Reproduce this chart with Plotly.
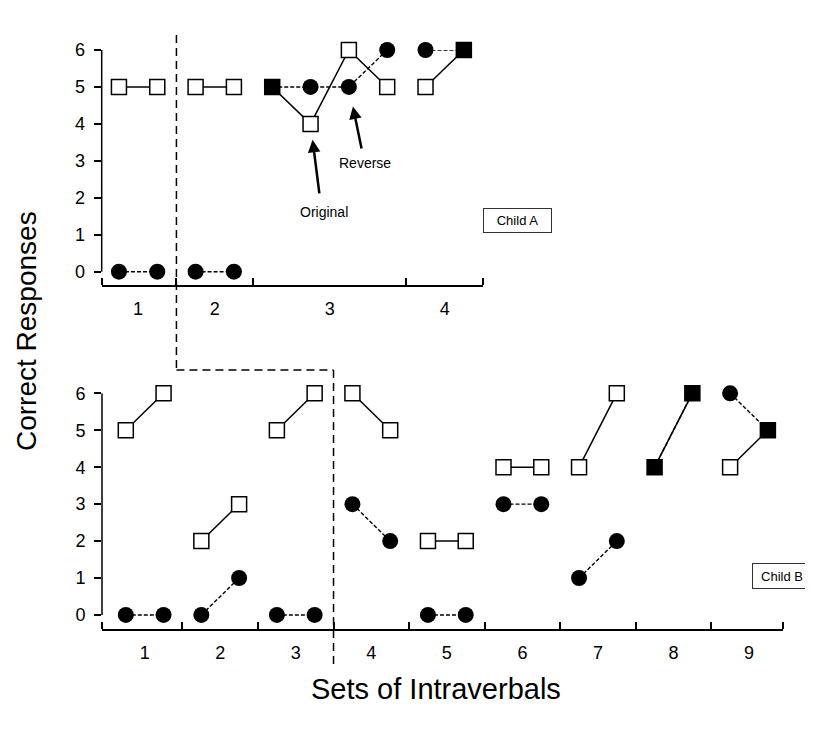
import plotly.graph_objects as go

# ---------------- data ----------------
top_set_labels = ["1", "2", "3", "4"]
top_set_sizes = [2, 2, 4, 2]
top_original = [5, 5, 5, 5, 5, 4, 6, 5, 5, 6]
top_reverse = [0, 0, 0, 0, 5, 5, 5, 6, 6, 6]
top_arrow_after_set = [1, 2, 3]

bot_set_labels = ["1", "2", "3", "4", "5", "6", "7", "8", "9"]
bot_set_sizes = [2, 2, 2, 2, 2, 2, 2, 2, 2]
bot_original = [5, 6, 2, 3, 5, 6, 6, 5, 2, 2, 4, 4, 4, 6, 4, 6, 4, 5]
bot_reverse = [0, 0, 0, 1, 0, 0, 3, 2, 0, 0, 3, 3, 1, 2, 4, 6, 6, 5]
bot_arrow_after_set = [3, 4, 5, 6, 7, 8]

# ---------------- layout geometry ----------------
PAGE_OFF = 8          # default body margin of the html page
W, H = 813 - 2 * PAGE_OFF, 733 - 2 * PAGE_OFF
FONT = "Liberation Sans, Arial, Helvetica, sans-serif"


def px_x(p):
    return (p - PAGE_OFF) / W


def px_y(p):
    return 1 - (p - PAGE_OFF) / H


TOP_XDOM = [px_x(101.7), px_x(483)]
TOP_YDOM = [px_y(285), px_y(50)]
TOP_XRANGE = [0.55, 10.5]
TOP_YRANGE = [-0.36, 6]

BOT_XDOM = [px_x(102), px_x(783)]
BOT_YDOM = [px_y(629), px_y(393.3)]
BOT_XRANGE = [0.37, 18.4]
BOT_YRANGE = [-0.38, 6]


def data_to_paper_x(v, dom, rng):
    return dom[0] + (v - rng[0]) / (rng[1] - rng[0]) * (dom[1] - dom[0])


def sessions_info(sizes):
    sess, centers, bounds = [], [], []
    s = 1
    for n in sizes:
        sess.append(list(range(s, s + n)))
        centers.append(s + (n - 1) / 2)
        s += n
        bounds.append(s - 0.5)
    return sess, centers, bounds[:-1]


def with_gaps(sets, vals):
    xs, ys = [], []
    i = 0
    for group in sets:
        for sidx in group:
            xs.append(sidx)
            ys.append(vals[i])
            i += 1
        xs.append(None)
        ys.append(None)
    return xs, ys


fig = go.Figure()


def add_panel(sizes, orig, rev, xa, ya):
    sets, centers, bounds = sessions_info(sizes)
    x_o, y_o = with_gaps(sets, orig)
    x_r, y_r = with_gaps(sets, rev)
    fig.add_trace(go.Scatter(x=x_r, y=y_r, mode="lines", xaxis=xa, yaxis=ya,
                             line=dict(color="black", width=1.4, dash="4px,2px"),
                             hoverinfo="skip", showlegend=False, cliponaxis=False))
    fig.add_trace(go.Scatter(x=x_o, y=y_o, mode="lines", xaxis=xa, yaxis=ya,
                             line=dict(color="black", width=1.5),
                             hoverinfo="skip", showlegend=False, cliponaxis=False))
    same = [o == r for o, r in zip(orig, rev)]
    flat = [s for g in sets for s in g]
    fig.add_trace(go.Scatter(
        x=[s for s, k in zip(flat, same) if not k],
        y=[r for r, k in zip(rev, same) if not k],
        mode="markers", xaxis=xa, yaxis=ya, cliponaxis=False, showlegend=False,
        marker=dict(symbol="circle", size=16, color="black", line=dict(width=0))))
    fig.add_trace(go.Scatter(
        x=[s for s, k in zip(flat, same) if not k],
        y=[o for o, k in zip(orig, same) if not k],
        mode="markers", xaxis=xa, yaxis=ya, cliponaxis=False, showlegend=False,
        marker=dict(symbol="square", size=15, color="white",
                    line=dict(color="black", width=1.5))))
    fig.add_trace(go.Scatter(
        x=[s for s, k in zip(flat, same) if k],
        y=[o for o, k in zip(orig, same) if k],
        mode="markers", xaxis=xa, yaxis=ya, cliponaxis=False, showlegend=False,
        marker=dict(symbol="square", size=15, color="black",
                    line=dict(color="black", width=1.5))))
    return centers, bounds


top_centers, top_bounds = add_panel(top_set_sizes, top_original, top_reverse, "x", "y")
bot_centers, bot_bounds = add_panel(bot_set_sizes, bot_original, bot_reverse, "x2", "y2")


def xaxis_cfg(dom, rng, centers, labels, bounds, anchor):
    return dict(domain=dom, range=rng, anchor=anchor, showgrid=False, zeroline=False,
                automargin=False,
                showline=True, linecolor="black", linewidth=1.5,
                tickmode="array", tickvals=centers, ticktext=labels, ticks="",
                ticklabelstandoff=7,
                tickfont=dict(family=FONT, size=18, color="black"),
                minor=dict(tickmode="array", tickvals=[rng[0]] + bounds + [rng[1]],
                           ticks="inside", ticklen=7, tickwidth=1.5, tickcolor="black"),
                fixedrange=True)


def yaxis_cfg(dom, rng, anchor):
    return dict(domain=dom, range=rng, anchor=anchor, showgrid=False, zeroline=False,
                automargin=False,
                showline=False, tickmode="array", tickvals=[0, 1, 2, 3, 4, 5, 6],
                ticks="outside", ticklen=7, tickwidth=1.5, tickcolor="black",
                ticklabelstandoff=5,
                tickfont=dict(family=FONT, size=18, color="black"), fixedrange=True)


fig.update_layout(
    template="none",
    width=W, height=H, margin=dict(l=0, r=0, t=0, b=0, autoexpand=False),
    paper_bgcolor="white", plot_bgcolor="rgba(0,0,0,0)",
    xaxis=xaxis_cfg(TOP_XDOM, TOP_XRANGE, top_centers, top_set_labels, top_bounds, "y"),
    yaxis=yaxis_cfg(TOP_YDOM, TOP_YRANGE, "x"),
    xaxis2=xaxis_cfg(BOT_XDOM, BOT_XRANGE, bot_centers, bot_set_labels, bot_bounds, "y2"),
    yaxis2=yaxis_cfg(BOT_YDOM, BOT_YRANGE, "x2"),
)

shapes = []
for xa, ya in (("x", "y"), ("x2", "y2")):
    shapes.append(dict(type="line", xref=f"{xa} domain", yref=ya, x0=0, x1=0, y0=0, y1=6,
                       line=dict(color="black", width=1.5)))

x_top_phase = top_bounds[top_arrow_after_set[0] - 1]
x_bot_phase = bot_bounds[bot_arrow_after_set[0] - 1]
px_top = data_to_paper_x(x_top_phase, TOP_XDOM, TOP_XRANGE)
px_bot = data_to_paper_x(x_bot_phase, BOT_XDOM, BOT_XRANGE)
dash = dict(color="black", width=1.5, dash="8px,5px")
shapes.append(dict(type="line", xref="paper", yref="paper", x0=px_top, x1=px_top,
                   y0=px_y(35), y1=px_y(370), line=dash))
shapes.append(dict(type="line", xref="paper", yref="paper", x0=px_top, x1=px_bot,
                   y0=px_y(370), y1=px_y(370), line=dash))
shapes.append(dict(type="line", xref="paper", yref="paper", x0=px_bot, x1=px_bot,
                   y0=px_y(370), y1=px_y(668), line=dash))
fig.update_layout(shapes=shapes)

ann = []


def arrow(x, y, xref, yref, ax=0, ay=-30):
    return dict(x=x, y=y, xref=xref, yref=yref, ax=ax, ay=ay, text="", showarrow=True,
                arrowhead=2, arrowsize=1, arrowwidth=2.5, arrowcolor="black", standoff=0)


for i, k in enumerate(top_arrow_after_set):
    ann.append(arrow(top_bounds[k - 1], 6.35 if i == 0 else 6.16, "x", "y"))
for i, k in enumerate(bot_arrow_after_set):
    ann.append(arrow(bot_bounds[k - 1], 6.74 if i == 0 else 6.14, "x2", "y2"))

ann.append(dict(x=7, y=5, xref="x", yref="y", ax=13, ay=63, text="", showarrow=True,
                arrowhead=2, arrowsize=1, arrowwidth=2.5, arrowcolor="black", standoff=20))
ann.append(dict(x=6, y=4, xref="x", yref="y", ax=9, ay=71, text="", showarrow=True,
                arrowhead=2, arrowsize=1, arrowwidth=2.5, arrowcolor="black", standoff=16))
ann.append(dict(x=7.42, y=2.93, xref="x", yref="y", text="Reverse", showarrow=False,
                xanchor="center", yanchor="middle",
                font=dict(family=FONT, size=14, color="black")))
ann.append(dict(x=6.36, y=1.62, xref="x", yref="y", text="Original", showarrow=False,
                xanchor="center", yanchor="middle",
                font=dict(family=FONT, size=14, color="black")))

ann.append(dict(x=px_x(517.5), y=px_y(220.5), xref="paper", yref="paper", text="Child A",
                xanchor="center", yanchor="middle",
                showarrow=False, width=67, height=23, bordercolor="#333", borderwidth=1,
                borderpad=0, bgcolor="white", font=dict(family=FONT, size=13, color="black")))
ann.append(dict(x=px_x(752), y=px_y(576), xref="paper", yref="paper", text="Child B",
                xanchor="left", yanchor="middle", align="center",
                showarrow=False, width=58, height=24, bordercolor="#333", borderwidth=1,
                borderpad=0, bgcolor="white", font=dict(family=FONT, size=13, color="black")))

ann.append(dict(x=px_x(26), y=px_y(331), xref="paper", yref="paper", text="Correct Responses",
                xanchor="center", yanchor="middle",
                textangle=-90, showarrow=False, font=dict(family=FONT, size=28, color="black")))
ann.append(dict(x=px_x(436), y=px_y(689), xref="paper", yref="paper", text="Sets of Intraverbals",
                xanchor="center", yanchor="middle",
                showarrow=False, font=dict(family=FONT, size=29, color="black")))

fig.update_layout(annotations=ann)

fig.write_html("out.html")
